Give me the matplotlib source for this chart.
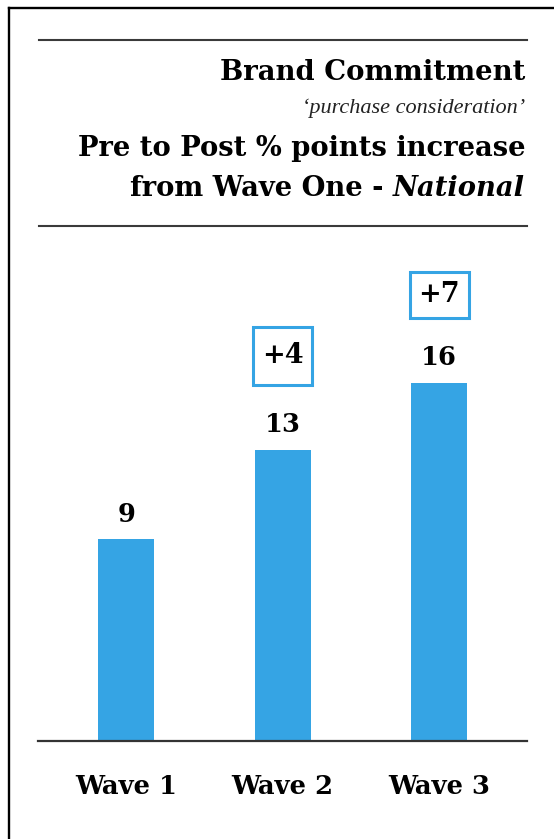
import matplotlib
matplotlib.use("Agg")
import matplotlib.pyplot as plt
from matplotlib.lines import Line2D
from matplotlib.patches import Rectangle

# datos
waves = ["Wave 1", "Wave 2", "Wave 3"]
valores = [9, 13, 16]
incrementos = ["", "+4", "+7"]

AZUL = "#35a4e4"
W, H = 554, 839
serif = "DejaVu Serif"

fig = plt.figure(figsize=(W / 100, H / 100), dpi=100)


def fx(px):
    return px / W


def fy(py):
    # coordenada en pixeles desde arriba -> fraccion de figura
    return 1 - py / H


# marco de la diapositiva
fig.add_artist(Line2D([fx(9), fx(9)], [fy(8), fy(H)], color="black", lw=1.7))
fig.add_artist(Line2D([fx(9), fx(W)], [fy(8), fy(8)], color="black", lw=1.7))

# reglas del titulo
for y in (40, 226):
    fig.add_artist(Line2D([fx(39), fx(527)], [fy(y), fy(y)], color="#3a3a3a", lw=1.5))

fig.text(fx(525), fy(72), "Brand Commitment", ha="right", va="center",
         family=serif, weight="bold", fontsize=19.8)
fig.text(fx(525), fy(108), "\u2018purchase consideration\u2019", ha="right", va="center",
         family="Liberation Serif", style="italic", fontsize=16, color="#222222")
fig.text(fx(525), fy(148), "Pre to Post % points increase", ha="right", va="center",
         family=serif, weight="bold", fontsize=19.7)
nat = fig.text(fx(525), fy(188), "National", ha="right", va="center",
               family=serif, weight="bold", style="italic", fontsize=19.7)

# grafico de barras
ax_l, ax_r, ax_b, ax_t = 38, 527, 741, 241
ax = fig.add_axes([fx(ax_l), fy(ax_b), (ax_r - ax_l) / W, (ax_b - ax_t) / H])
px_por_unidad = 22.4
ax.set_ylim(0, (ax_b - ax_t) / px_por_unidad)
paso = 156.5
ax.set_xlim(-(126.5 - ax_l) / paso, 2 + (ax_r - 439) / paso)

x = list(range(len(waves)))
ancho = 56 / paso
ax.bar(x, valores, width=ancho, color=AZUL, zorder=2)

for xi, v in zip(x, valores):
    ax.text(xi, v + 25 / px_por_unidad, str(v), ha="center", va="center",
            family=serif, weight="bold", fontsize=18.5)

# recuadros con el incremento
alto_caja = {"+4": 58, "+7": 46}
for xi, v, inc in zip(x, valores, incrementos):
    if not inc:
        continue
    base = v + 65 / px_por_unidad
    h = alto_caja[inc] / px_por_unidad
    w = 59 / paso
    ax.add_patch(Rectangle((xi - w / 2, base), w, h, fill=False,
                           edgecolor=AZUL, lw=2.2, clip_on=False))
    ax.text(xi, base + h / 2, inc, ha="center", va="center",
            family=serif, weight="bold", fontsize=19.5)

ax.set_xticks(x)
ax.set_xticklabels(waves, family=serif, weight="bold", fontsize=18.6)
ax.tick_params(axis="x", length=0, pad=24)
ax.set_yticks([])
for s in ("top", "right", "left"):
    ax.spines[s].set_visible(False)
ax.spines["bottom"].set_color("#333333")
ax.spines["bottom"].set_linewidth(1.6)
ax.set_facecolor("none")

# "from Wave One - " a la izquierda de "National"
ax.annotate("from Wave One - ", xy=(0, 0), xycoords=nat, ha="right", va="bottom",
            family=serif, weight="bold", fontsize=19.7, annotation_clip=False)

fig.savefig("out.png", dpi=100)
